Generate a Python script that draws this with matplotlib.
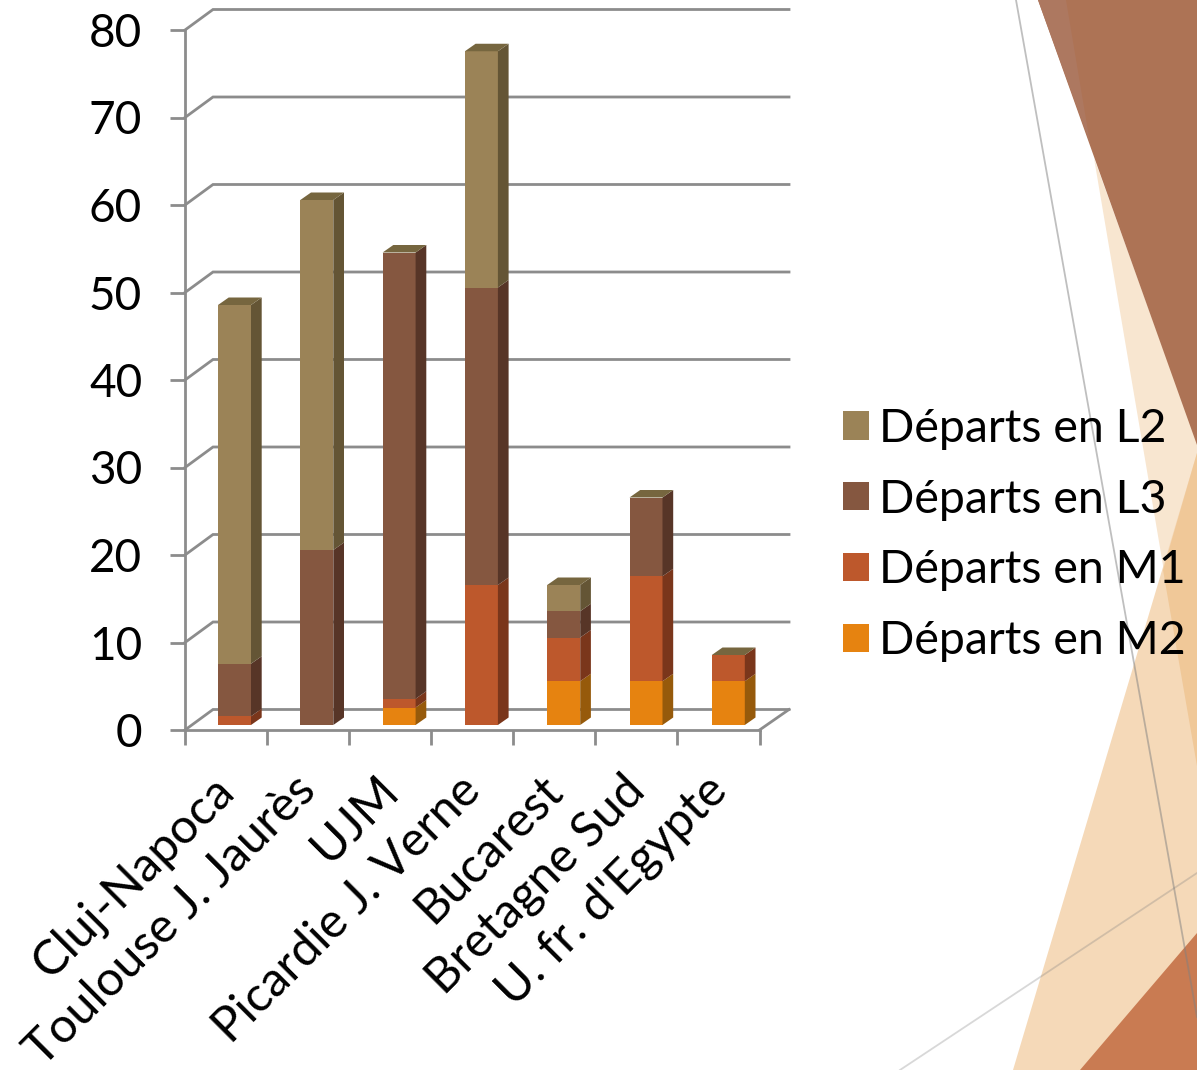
import numpy as np
import matplotlib
matplotlib.use("Agg")
import matplotlib.pyplot as plt
from matplotlib.patches import Polygon

plt.rcParams["font.family"] = ["Lato", "DejaVu Sans"]

categories = ["Cluj-Napoca", "Toulouse J. Jaurès", "UJM", "Picardie J. Verne",
              "Bucarest", "Bretagne Sud", "U. fr. d'Egypte"]
series_names = ["Départs en M2", "Départs en M1", "Départs en L3", "Départs en L2"]
m2 = [0, 0, 2, 0, 5, 5, 5]
m1 = [1, 0, 1, 16, 5, 12, 3]
l3 = [6, 20, 51, 34, 3, 9, 0]
l2 = [41, 40, 0, 27, 3, 0, 0]
y_ticks = [0, 10, 20, 30, 40, 50, 60, 70, 80]

front_colors = ["#E68310", "#BD582C", "#855740", "#9B8357"]
side_colors = ["#965A0B", "#7A361B", "#573527", "#645535"]
top_color = "#76663F"
grid_color = "#8C8C8C"

W, H = 1197, 1070
fig = plt.figure(figsize=(W / 100, H / 100), dpi=100, facecolor="white")

# slide decoration behind the chart, in pixels
bg = fig.add_axes([0, 0, 1, 1], zorder=0)
bg.set_xlim(0, W)
bg.set_ylim(H, 0)
bg.axis("off")
bg.add_patch(Polygon([(1094, 158), (1197, 442), (1197, 766)], color="#F8E6D0", lw=0))
bg.add_patch(Polygon([(1197, 453), (1013, 1070), (1197, 1070)], color="#F5D9B8", lw=0))
bg.add_patch(Polygon([(1197, 453), (1163, 570), (1197, 766)], color="#F0C898", lw=0))
bg.add_patch(Polygon([(1038, 0), (1197, 0), (1197, 445)], color="#AD7355", lw=0))
bg.add_patch(Polygon([(1038, 0), (1066, 0), (1090, 143)], color="#AD7860", lw=0))
bg.add_patch(Polygon([(1197, 933), (1080, 1070), (1197, 1070)], color="#C97B52", lw=0))
bg.plot([1016, 1197], [0, 1017], color="#808080", alpha=0.5, lw=1.3)
bg.plot([900, 1197], [1070, 873], color="#7F7F7F", alpha=0.3, lw=1.3)

# main axes: value 0 at y=730px, value 80 at y=30px, ticks from 185 to 759.5px
left, right, top, bottom = 185, 759.5, 30, 730
ax = fig.add_axes([left / W, 1 - bottom / H, (right - left) / W, (bottom - top) / H], zorder=1)
ax.patch.set_alpha(0)
ax.set_xlim(0, 7)
ax.set_ylim(0, 80)
px_x = 7 / (right - left)
px_y = 80 / (bottom - top)

# back wall and floor
wall_dx = 28 * px_x
wall_dy = 20.5 * px_y
wall_end = (789 - left) * px_x
for v in y_ticks:
    ax.plot([0, wall_dx, wall_end], [v, v + wall_dy, v + wall_dy], color=grid_color,
            lw=2, clip_on=False, zorder=1, solid_joinstyle="miter")
ax.plot([7, wall_end], [0, wall_dy], color=grid_color, lw=2, clip_on=False, zorder=1)

# fake 3D stacked columns
bar_left = 33 * px_x
bar_pitch = 82.3 * px_x
bar_width = 33 * px_x
depth_x = 10.7 * px_x
depth_y = 7.5 * px_y
lift = 5 * px_y
x = np.arange(len(categories)) * bar_pitch + bar_left
base = np.zeros(len(categories))
handles = []
for values, name, fc, sc in zip([m2, m1, l3, l2], series_names, front_colors, side_colors):
    values = np.array(values)
    bars = ax.bar(x, values, bar_width, bottom=base + lift, align="edge", color=fc,
                  label=name, zorder=3, clip_on=False, lw=0)
    handles.append(bars)
    for xi, b, v in zip(x, base, values):
        if v == 0:
            continue
        x1 = xi + bar_width
        y0 = b + lift
        ax.add_patch(Polygon([(x1, y0), (x1, y0 + v), (x1 + depth_x, y0 + v + depth_y),
                              (x1 + depth_x, y0 + depth_y)],
                             color=sc, lw=0, zorder=3, clip_on=False))
    base = base + values

for xi, t in zip(x, base):
    y0 = t + lift
    ax.add_patch(Polygon([(xi, y0), (xi + bar_width, y0), (xi + bar_width + depth_x, y0 + depth_y),
                          (xi + depth_x, y0 + depth_y)],
                         color=top_color, lw=0, zorder=3, clip_on=False))

# axes, ticks and labels
for s in ["top", "right"]:
    ax.spines[s].set_visible(False)
for s in ["left", "bottom"]:
    ax.spines[s].set_color(grid_color)
    ax.spines[s].set_linewidth(2)
ax.set_yticks(y_ticks)
ax.tick_params(axis="y", length=10.8, width=2, color=grid_color, labelsize=33, pad=20)
ax.set_xticks(np.arange(8))
ax.set_xticklabels([])
ax.tick_params(axis="x", which="major", length=10.8, width=2, color=grid_color)
ax.set_xticks(np.arange(7) + 0.5 - 15 * px_x, minor=True)
ax.set_xticklabels(categories, minor=True, rotation=45, ha="right", va="top",
                   rotation_mode="anchor", fontsize=35)
ax.tick_params(axis="x", which="minor", length=0, pad=27)

leg_handles = handles[::-1]
ax.legend(leg_handles, series_names[::-1], loc="upper left",
          bbox_to_anchor=(843 / W, 1 - 408 / H), bbox_transform=fig.transFigure,
          frameon=False, fontsize=33.5, borderpad=0, borderaxespad=0, labelspacing=0.617,
          handlelength=0.56, handleheight=0.56, handletextpad=0.215)

fig.savefig("out.png", dpi=100)
